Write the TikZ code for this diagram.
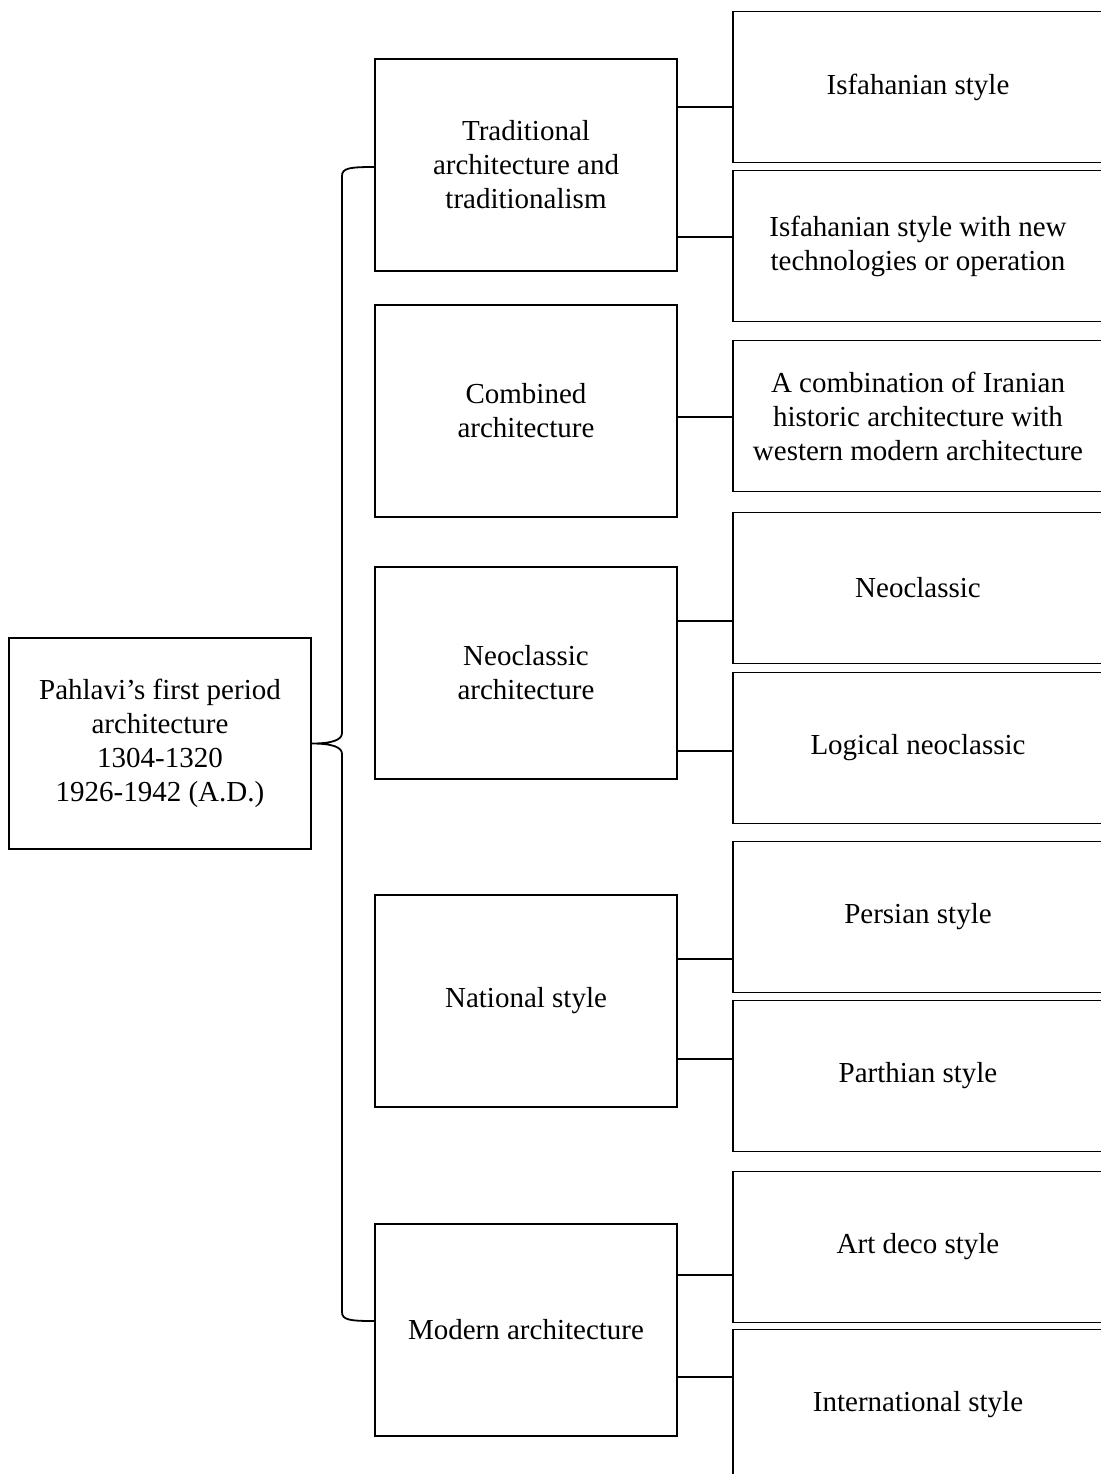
\documentclass[tikz,border=0pt]{standalone}
\usepackage{fontspec}
\setmainfont{Liberation Serif}
\begin{document}
\begin{tikzpicture}[x=0.5pt,y=-0.5pt,
  line width=0.9pt,
  box/.style={draw=black, line width=0.9pt, align=center, inner sep=2pt,
    font=\fontsize{14.5}{17}\selectfont},
  leftbox/.style={box, minimum width=151pt, minimum height=105.5pt},
  midbox/.style={box, minimum width=151pt, minimum height=106pt},
  subbox/.style={box, minimum width=185pt, minimum height=75.5pt},
  link/.style={draw=black, line width=0.9pt}]
\useasboundingbox (0,0) rectangle (1101,1474);
\clip (0,0) rectangle (1101,1474);

% root
\node[leftbox] (root) at (160,743.5) {Pahlavi’s first period\\architecture\\1304-1320\\1926-1942 (A.D.)};

% main categories
\node[midbox] (m1) at (526,165) {Traditional\\architecture and\\traditionalism};
\node[midbox] (m2) at (526,411) {Combined\\architecture};
\node[midbox] (m3) at (526,673) {Neoclassic\\architecture};
\node[midbox] (m4) at (526,1001) {National style};
\node[midbox] (m5) at (526,1330) {Modern architecture};

% sub-styles
\node[subbox] (r1) at (918,87) {Isfahanian style};
\node[subbox] (r2) at (918,246) {Isfahanian style with new\\technologies or operation};
\node[subbox] (r3) at (918,416) {A combination of Iranian\\historic architecture with\\western modern architecture};
\node[subbox] (r4) at (918,588) {Neoclassic};
\node[subbox] (r5) at (918,748) {Logical neoclassic};
\node[subbox] (r6) at (918,917) {Persian style};
\node[subbox] (r7) at (918,1076) {Parthian style};
\node[subbox] (r8) at (918,1247) {Art deco style};
\node[subbox] (r9) at (918,1405) {International style};

% brace from the root to the categories
\coordinate (btop) at (m1.west |- 0,167);
\coordinate (bbot) at (m5.west |- 0,1321);
\draw[link] (btop) .. controls (350,167) and (342,168) .. (342,176)
  -- (342,733) .. controls (342,740) and (332,743.5) .. (root.east)
  .. controls (332,743.5) and (342,747) .. (342,754)
  -- (342,1312) .. controls (342,1320) and (350,1321) .. (bbot);

% category to sub-style links
\draw[link] (m1.east |- 0,107) -- (r1.west |- 0,107);
\draw[link] (m1.east |- 0,237) -- (r2.west |- 0,237);
\draw[link] (m2.east |- 0,417) -- (r3.west |- 0,417);
\draw[link] (m3.east |- 0,621) -- (r4.west |- 0,621);
\draw[link] (m3.east |- 0,751) -- (r5.west |- 0,751);
\draw[link] (m4.east |- 0,959) -- (r6.west |- 0,959);
\draw[link] (m4.east |- 0,1059) -- (r7.west |- 0,1059);
\draw[link] (m5.east |- 0,1275) -- (r8.west |- 0,1275);
\draw[link] (m5.east |- 0,1377) -- (r9.west |- 0,1377);
\end{tikzpicture}
\end{document}
